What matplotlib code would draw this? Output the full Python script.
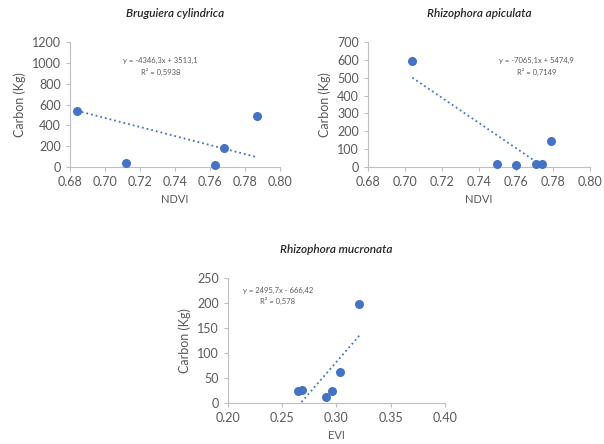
import numpy as np
import matplotlib
matplotlib.use("Agg")
import matplotlib.pyplot as plt

plt.rcParams['font.family'] = ['Lato', 'DejaVu Sans']

# Bruguiera cylindrica
bc_ndvi = [0.684, 0.712, 0.763, 0.768, 0.787]
bc_carbon = [540, 40, 15, 180, 490]
# Rhizophora apiculata
ra_ndvi = [0.704, 0.750, 0.760, 0.771, 0.774, 0.779]
ra_carbon = [595, 15, 12, 18, 18, 145]
# Rhizophora mucronata
rm_evi = [0.265, 0.268, 0.290, 0.296, 0.303, 0.321]
rm_carbon = [24, 26, 12, 24, 63, 197]

blue = '#4472C4'
grey = '#595959'


def panel(ax, x, y, coef, title, xlabel, xlim, xticks, xfmt, ylim, yticks, eq, r2, eqpos):
    ax.scatter(x, y, s=30, color=blue, zorder=3, clip_on=False)
    xs = np.linspace(min(x), max(x), 50)
    ax.plot(xs, coef[0] * xs + coef[1], ':', color=blue, lw=1.3)
    ax.set_xlim(xlim)
    ax.set_ylim(ylim)
    ax.set_xticks(xticks)
    ax.set_xticklabels([xfmt % t for t in xticks])
    ax.set_yticks(yticks)
    for s in ['top', 'right']:
        ax.spines[s].set_visible(False)
    for s in ['left', 'bottom']:
        ax.spines[s].set_color('#bfbfbf')
    ax.tick_params(colors='#bfbfbf', labelcolor=grey, labelsize=9, length=3)
    ax.set_xlabel(xlabel, color=grey, fontsize=8)
    ax.set_ylabel('Carbon (Kg)', color=grey, fontsize=9, labelpad=4)
    ax.set_title(title, style='italic', fontweight='semibold', fontsize=8.5,
                 color='#262626', pad=18)
    ax.text(eqpos[0], eqpos[1], eq + '\n' + 'R² = ' + r2, transform=ax.transAxes,
            ha='center', va='top', fontsize=5.5, color=grey, linespacing=1.5)


fig = plt.figure(figsize=(6.04, 4.44), dpi=100)
ax1 = fig.add_axes([0.116, 0.624, 0.348, 0.281])
ax2 = fig.add_axes([0.609, 0.624, 0.368, 0.281])
ax3 = fig.add_axes([0.377, 0.092, 0.360, 0.282])

panel(ax1, bc_ndvi, bc_carbon, (-4346.3, 3513.1), 'Bruguiera cylindrica', 'NDVI',
      (0.68, 0.80), np.arange(0.68, 0.801, 0.02), '%.2f', (0, 1200), range(0, 1201, 200),
      'y = -4346,3x + 3513,1', '0,5938', (0.43, 0.88))
panel(ax2, ra_ndvi, ra_carbon, (-7065.1, 5474.9), 'Rhizophora apiculata', 'NDVI',
      (0.68, 0.80), np.arange(0.68, 0.801, 0.02), '%.2f', (0, 700), range(0, 701, 100),
      'y = -7065,1x + 5474,9', '0,7149', (0.76, 0.88))
panel(ax3, rm_evi, rm_carbon, (2495.7, -666.42), 'Rhizophora mucronata', 'EVI',
      (0.20, 0.40), np.arange(0.20, 0.401, 0.05), '%.2f', (0, 250), range(0, 251, 50),
      'y = 2495,7x - 666,42', '0,578', (0.23, 0.93))

fig.savefig('out.png', dpi=100)
